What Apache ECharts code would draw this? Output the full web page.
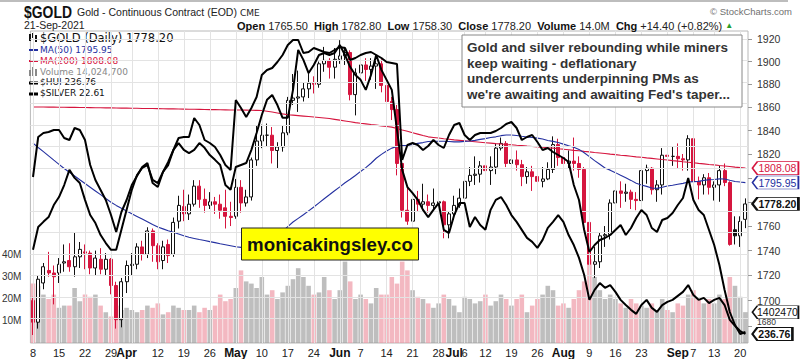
<!DOCTYPE html>
<html><head><meta charset="utf-8">
<script src="https://cdn.jsdelivr.net/npm/echarts@6/dist/echarts.min.js"></script>
<style>html,body{margin:0;padding:0;background:#fff}#c{width:803px;height:359px}</style>
</head><body><div id="c"></div>
<script>
// ---- categories (trading days) ----
const monthDays = [
  ['Mar',[8,9,10,11,12,15,16,17,18,19,22,23,24,25,26,29,30,31]],
  ['Apr',[1,5,6,7,8,9,12,13,14,15,16,19,20,21,22,23,26,27,28,29,30]],
  ['May',[3,4,5,6,7,10,11,12,13,14,17,18,19,20,21,24,25,26,27,28]],
  ['Jun',[1,2,3,4,7,8,9,10,11,14,15,16,17,18,21,22,23,24,25,28,29,30]],
  ['Jul',[1,2,6,7,8,9,12,13,14,15,16,19,20,21,22,23,26,27,28,29,30]],
  ['Aug',[2,3,4,5,6,9,10,11,12,13,16,17,18,19,20,23,24,25,26,27,30,31]],
  ['Sep',[1,2,3,7,8,9,10,13,14,15,16,17,20,21]]
];
const xTickLabels = {'Mar 8':'8','Mar 15':'15','Mar 22':'22','Mar 29':'29','Apr 1':'Apr','Apr 12':'12','Apr 19':'19','Apr 26':'26',
  'May 3':'May','May 10':'10','May 17':'17','May 24':'24','Jun 1':'Jun','Jun 7':'7','Jun 14':'14','Jun 21':'21','Jun 28':'28',
  'Jul 1':'Jul','Jul 6':'6','Jul 12':'12','Jul 19':'19','Jul 26':'26','Aug 2':'Aug','Aug 9':'9','Aug 16':'16','Aug 23':'23',
  'Sep 1':'Sep','Sep 7':'7','Sep 13':'13','Sep 20':'20'};
const weekGridDates = ['Mar 8','Mar 15','Mar 22','Mar 29','Apr 5','Apr 12','Apr 19','Apr 26','May 3','May 10','May 17','May 24',
  'Jun 1','Jun 7','Jun 14','Jun 21','Jun 28','Jul 6','Jul 12','Jul 19','Jul 26','Aug 2','Aug 9','Aug 16','Aug 23','Aug 30','Sep 7','Sep 13','Sep 20'];
const priceGridTicks = [1680,1700,1720,1740,1760,1780,1800,1820,1840,1860,1880,1900,1920];
const priceLabelTicks = [1680,1700,1720,1740,1760,1820,1840,1860,1880,1900,1920];
const volumeTicks = [10,20,30,40];

// ---- gold OHLC ----
const priorClose = 1698.5;
const open = [1700,1683,1714,1724,1722,1722,1730,1732,1727,1735,1739,1738,1726,1733,1725,1733,1712,1685,1715,1728,
 1729,1743,1737,1756,1744,1732,1745,1737,1764,1776,1770,1778,1793,1782,1777,1780,1778,1775,1768,1768,
 1792,1779,1784,1815,1831,1836,1836,1823,1826,1838,1866,1868,1869,1876,1881,1880,1898,1901,1895,1902,
 1905,1908,1871,1890,1897,1893,1896,1898,1879,1865,1858,1812,1773,1764,1782,1778,1780,1777,1779,1780,
 1761,1770,1777,1783,1797,1802,1803,1810,1806,1809,1825,1829,1812,1815,1811,1801,1805,1801,1797,1799,
 1807,1828,1817,1812,1814,1812,1807,1763,1729,1731,1752,1753,1779,1789,1787,1788,1782,1781,1806,1808,
 1790,1794,1819,1818,1818,1816,1815,1833,1797,1794,1800,1792,1794,1806,1796,1757,1752,1765.5];
const high = [1703,1720,1730,1739,1728,1734,1745,1746,1755,1747,1745,1740,1740,1742,1738,1734,1715,1718,1732,1738,
 1746,1748,1759,1758,1746,1748,1749,1767,1785,1790,1786,1798,1798,1791,1788,1784,1786,1790,1780,1799,
 1798,1790,1817,1844,1845,1846,1843,1830,1844,1869,1889,1892,1882,1890,1887,1900,1913,1903,1912,1919,
 1913,1910,1894,1903,1903,1903,1904,1902,1881,1869,1862,1815,1793,1790,1789,1795,1786,1791,1786,1781,
 1772,1785,1791,1815,1809,1818,1814,1812,1818,1829,1834,1831,1826,1823,1815,1809,1810,1812,1809,1813,
 1835,1833,1820,1823,1834,1818,1809,1767,1743,1755,1760,1782,1794,1797,1795,1790,1788,1810,1811,1809,
 1798,1825,1823,1826,1829,1820,1836,1834,1801,1803,1804,1797,1810,1812,1797,1768,1768,1782.8];
const low = [1673,1678,1709,1719,1697,1714,1723,1723,1719,1726,1725,1721,1720,1721,1720,1705,1678,1679,1706,1720,
 1725,1732,1734,1731,1725,1725,1730,1735,1758,1764,1765,1776,1775,1771,1774,1770,1766,1758,1760,1766,
 1771,1776,1781,1810,1825,1826,1812,1808,1822,1836,1862,1856,1865,1868,1872,1877,1891,1885,1885,1898,
 1897,1866,1853,1884,1883,1884,1876,1873,1855,1849,1802,1767,1761,1761,1772,1773,1771,1773,1770,1750,
 1750,1765,1775,1783,1793,1794,1796,1791,1794,1803,1823,1809,1794,1806,1793,1795,1789,1791,1792,1798,
 1804,1810,1806,1808,1806,1800,1757,1690,1718,1726,1743,1749,1770,1775,1780,1774,1773,1778,1795,1786,
 1780,1786,1809,1810,1808,1806,1806,1791,1782,1786,1786,1781,1780,1793,1744,1745,1743,1758.3];
const close = [1683,1717,1727,1722,1719,1729,1731,1727,1735,1741,1738,1726,1734,1725,1733,1712,1685,1715,1728,1729,
 1743,1737,1756,1744,1731,1743,1736,1763,1777,1770,1778,1793,1782,1777,1780,1778,1773,1768,1767,1792,
 1779,1784,1815,1831,1836,1836,1823,1826,1838,1866,1868,1869,1876,1881,1880,1898,1901,1895,1902,1905,
 1908,1871,1890,1897,1893,1896,1898,1879,1865,1858,1812,1773,1764,1782,1778,1780,1777,1779,1780,1761,
 1770,1777,1783,1797,1802,1803,1810,1806,1809,1825,1829,1812,1815,1811,1801,1805,1801,1797,1799,1807,
 1828,1817,1812,1814,1812,1807,1763,1729,1731,1752,1753,1779,1789,1787,1788,1782,1781,1806,1808,1790,
 1794,1819,1818,1818,1816,1815,1833,1797,1794,1800,1792,1794,1806,1796,1745,1752,1763.8,1778.2];
const volumeM = [27,26,22,20,22,16,17,17,25,19, 22,21,22,17,14,12,17,15,16,15, 14,15,17,16,18,13,14,17,16,15,
 15,17,14,16,15,17,22,19,20,25, 33,28,27,25,30,22,24,20,23,26, 29,34,30,26,22,23,30,24,20,24,
 37,28,20,22,20,18,25,22,22,30, 27,37,33,24,21,20,18,16,18,22, 20,17,14,21,20,18,19,22,17,19,
 22,20,17,20,22,14,17,20,22,26, 24,17,18,16,20,24,28,38,30,24, 20,22,20,18,16,20,18,17,16,18,
 15,20,15,14,18,17,22,24,20,18, 20,18,22,20,30,26,21,14.0247];
const ma50 = [1829.3,1825.5,1822.0,1818.4,1814.8,1811.3,1807.8,1804.6,1801.5,1798.3,1795.2,1792.1,1789.0,1785.9,1782.7,1779.6,1777.0,1774.6,1772.3,1770.1,
 1767.9,1765.7,1763.5,1761.3,1759.2,1757.7,1756.2,1754.9,1753.5,1752.1,1750.8,1749.9,1749.0,1748.2,1747.3,1746.5,1745.6,1744.8,1744.0,1743.2,
 1742.6,1742.2,1742.4,1743.6,1745.4,1747.6,1749.9,1752.4,1755.8,1759.6,1763.3,1766.3,1769.3,1772.5,1775.7,1779.1,1782.5,1785.8,1789.2,1792.4,
 1795.8,1798.7,1801.9,1805.3,1808.5,1812.2,1816.4,1819.7,1822.5,1825.0,1826.4,1827.1,1827.3,1828.1,1829.0,1829.7,1830.6,1830.9,1830.9,1830.8,
 1830.6,1830.3,1830.3,1830.7,1831.1,1831.6,1832.4,1833.1,1834.0,1834.6,1835.6,1836.2,1836.2,1835.8,1835.1,1834.5,1834.0,1833.5,1832.7,1831.5,
 1830.7,1829.7,1828.4,1827.0,1825.7,1823.9,1821.1,1817.8,1814.4,1811.3,1808.2,1806.4,1804.3,1802.1,1800.0,1797.8,1795.4,1794.0,1792.8,1791.5,
 1791.1,1792.0,1793.1,1793.8,1794.6,1795.3,1796.4,1796.8,1797.0,1797.8,1798.3,1798.6,1799.1,1799.0,1797.9,1796.9,1796.4,1795.95];
const ma200 = [1860.2,1860.3,1860.2,1860.1,1860.1,1860.0,1860.0,1859.9,1859.9,1859.8,1859.8,1859.7,1859.6,1859.6,1859.5,1859.5,1859.4,1859.3,1859.3,1859.2,
 1859.1,1859.0,1858.9,1858.9,1858.8,1858.7,1858.6,1858.6,1858.5,1858.4,1858.3,1858.3,1858.2,1858.1,1858.0,1858.0,1857.9,1857.8,1857.7,1857.7,
 1857.6,1857.5,1857.4,1857.3,1857.2,1856.6,1855.9,1855.1,1854.3,1853.6,1853.2,1852.8,1852.4,1852.0,1851.6,1851.2,1850.8,1850.3,1849.6,1848.9,
 1848.2,1847.5,1846.8,1846.2,1845.7,1845.1,1844.6,1844.0,1843.5,1842.9,1841.8,1840.5,1839.3,1838.1,1836.9,1835.7,1834.6,1834.1,1833.6,1833.0,
 1832.5,1832.0,1831.6,1831.2,1830.8,1830.4,1830.0,1829.6,1829.2,1828.8,1828.5,1828.1,1827.8,1827.4,1827.1,1826.7,1826.4,1826.0,1825.7,1825.3,
 1825.0,1824.5,1824.1,1823.6,1823.1,1822.7,1822.2,1821.8,1821.3,1820.9,1820.4,1819.9,1819.5,1819.0,1818.6,1818.1,1817.6,1817.2,1816.7,1816.3,
 1815.8,1815.3,1814.9,1814.4,1814.0,1813.5,1813.1,1812.6,1812.1,1811.7,1811.2,1810.8,1810.3,1809.9,1809.4,1808.9,1808.5,1808.08];
const hui = [257.8,263.5,264.8,266.0,269.0,271.0,274.0,277.8,275.8,274.5, 270.3,266.5,264.5,261.5,259.5,257.8,257.8,262.8,267.8,272.8,
 276.5,278.3,279.0,275.3,274.5,277.3,279.0,282.8,284.5,282.8, 282.0,282.8,284.5,283.3,281.5,280.3,279.0,274.0,272.8,278.5,
 279.0,279.5,282.8,287.0,291.5,295.3,296.5,294.0,290.8,290.8, 297.8,307.8,305.3,302.0,304.0,306.5,307.0,306.5,307.0,309.0,
 306.5,303.5,301.5,300.3,297.8,301.5,306.5,302.8,300.3,297.8, 287.8,277.8,273.5,272.0,270.3,267.8,266.0,267.8,269.5,262.8,
 262.0,266.5,269.5,269.5,263.5,266.0,264.0,262.8,267.8,270.3, 271.0,269.0,266.5,264.8,262.8,260.8,259.8,258.3,260.3,263.3,
 264.8,266.5,264.8,261.5,259.0,255.8,251.5,245.3,247.8,249.5, 248.3,249.0,247.3,245.3,244.0,242.8,241.8,244.0,245.3,243.3,
 242.3,244.0,244.8,245.3,246.3,247.3,249.0,246.5,245.3,245.8, 244.5,245.3,245.8,244.0,240.3,238.8,237.5,236.76];
const silver = [25.71,26.51,26.59,26.61,26.65,26.65,26.49,26.45,26.69,26.65, 26.45,25.95,25.65,25.45,25.25,24.95,24.61,25.01,25.25,25.55,
 25.73,25.91,25.99,25.59,25.51,25.81,26.01,26.25,26.49,26.51, 26.51,26.89,26.75,26.45,26.39,26.31,26.15,25.95,25.85,27.25,
 27.09,26.91,27.09,27.31,27.75,27.85,27.89,28.01,28.15,28.35, 28.45,28.45,28.19,28.21,28.29,28.25,28.21,28.19,28.25,28.31,
 28.29,28.05,28.09,28.15,28.19,28.21,28.15,28.09,28.01,27.99, 27.97,26.05,26.35,26.39,26.35,26.25,26.33,26.45,26.35,26.29,
 26.55,26.75,26.79,26.55,26.45,26.55,26.59,26.59,26.59,26.63, 26.69,26.77,26.81,26.69,26.45,26.51,26.55,26.41,26.25,26.29,
 26.21,26.15,26.09,26.01,25.55,25.25,24.65,24.21,24.35,24.45, 24.49,24.55,24.65,24.75,24.55,24.69,24.89,25.05,24.95,24.69,
 24.61,24.85,24.89,24.99,25.15,25.29,25.69,25.25,25.05,24.95, 24.65,24.35,23.95,23.45,23.01,22.75,22.57,22.61];

// ---- build ----
const dates = [];
monthDays.forEach(([m, ds]) => ds.forEach(d => dates.push(m + ' ' + d)));
const N = dates.length;
const last = dates[N - 1];
const ln = Math.log;
const RED = '#d6163f', BLK = '#111', BLUE = '#2430a0';
const fontA = 'Liberation Sans, Arial, sans-serif';
const fontV = 'DejaVu Sans, Verdana, sans-serif';

const candleData = dates.map((d, i) => {
  const pc = i === 0 ? priorClose : close[i - 1];
  const down = close[i] < pc;
  const col = down ? RED : BLK;
  const hollow = close[i] > open[i];
  return {
    value: [ln(open[i]), ln(close[i]), ln(low[i]), ln(high[i])],
    itemStyle: { color: hollow ? '#fff' : col, color0: col, borderColor: col, borderColor0: col }
  };
});
const volData = dates.map((d, i) => {
  const pc = i === 0 ? priorClose : close[i - 1];
  return { value: volumeM[i], itemStyle: { color: close[i] < pc ? 'rgba(236,140,155,0.62)' : 'rgba(150,150,150,0.62)' } };
});

function tag(coordY, text, color, bold, w) {
  w = w || 46;
  return {
    coord: [last, coordY],
    symbol: 'path://M0,6 L5,0 L' + w + ',0 L' + w + ',12 L5,12 Z',
    symbolSize: [w, 13],
    symbolKeepAspect: false,
    symbolOffset: [7 + w / 2, 0],
    itemStyle: { color: '#fff', borderColor: color, borderWidth: bold ? 1.5 : 1 },
    label: { show: true, position: 'inside', offset: [2, 0], formatter: text, color: color,
      fontFamily: fontA, fontSize: 10.5, fontWeight: bold ? 'bold' : 'normal' }
  };
}

const option = {
  animation: false,
  backgroundColor: '#fff',
  grid: { left: 30.4, right: 55, top: 31, bottom: 16, show: true, borderColor: '#b8b8b8', borderWidth: 1, outerBoundsMode: 'none', containLabel: false },
  xAxis: {
    type: 'category', data: dates, boundaryGap: true,
    axisLine: { show: false }, axisTick: { show: false }, splitLine: { show: false },
    axisLabel: {
      interval: (i, v) => xTickLabels[v] !== undefined,
      formatter: v => { const t = xTickLabels[v] || ''; return /^[A-Z]/.test(t) ? '{m|' + t + '}' : t; },
      margin: 4, color: '#222', fontFamily: fontA, fontSize: 11,
      rich: { m: { fontWeight: 'bold', fontSize: 12, fontFamily: fontA, color: '#111' } }
    }
  },
  yAxis: [
    { type: 'value', position: 'right', min: ln(1666.8), max: ln(1927.2), scale: true,
      axisLine: { show: false }, splitLine: { show: false },
      axisTick: { show: true, length: 4, customValues: priceGridTicks.map(ln), lineStyle: { color: '#999' } },
      axisLabel: { customValues: priceLabelTicks.map(ln),
        formatter: v => { const p = Math.round(Math.exp(v)); return p === 1680 ? '{s|1680}' : String(p); },
        margin: 9, color: '#333', fontFamily: fontA, fontSize: 10.5,
        rich: { s: { fontSize: 8.5, fontFamily: fontA, color: '#333', padding: [0, 0, 8, 0] } } } },
    { type: 'value', position: 'left', min: 0, max: 141.8,
      axisLine: { show: false }, splitLine: { show: false }, axisTick: { show: false },
      axisLabel: { customValues: volumeTicks, formatter: v => v + 'M', margin: 9, color: '#333', fontFamily: fontA, fontSize: 10 } },
    { type: 'value', show: false, min: 234.51, max: 312.51 },
    { type: 'value', show: false, min: 22.39, max: 28.63 }
  ],
  series: [
    { type: 'line', name: 'grid', yAxisIndex: 0, data: close.map(ln), symbol: 'none', silent: true, z: 0,
      lineStyle: { opacity: 0 },
      markLine: { silent: true, symbol: ['none', 'none'], label: { show: false },
        lineStyle: { color: '#e3e3e3', width: 1, type: 'solid' },
        data: priceGridTicks.map(p => ({ yAxis: ln(p) })).concat(weekGridDates.map(d => ({ xAxis: d }))) } },
    { type: 'bar', name: 'Volume', yAxisIndex: 1, data: volData, barWidth: '88%', z: 1,
      markPoint: { data: [ tag(volumeM[N - 1], '1402470', BLK, false, 46) ] } },
    { type: 'candlestick', name: 'GOLD', yAxisIndex: 0, data: candleData, barWidth: '70%', z: 3,
      itemStyle: { borderWidth: 1 },
      markPoint: { data: [ tag(ln(close[N - 1]), close[N - 1].toFixed(2), BLK, true, 46) ] } },
    { type: 'line', name: 'MA200', yAxisIndex: 0, data: ma200.map(ln), symbol: 'none', z: 4,
      lineStyle: { color: RED, width: 1.1 },
      markPoint: { data: [ tag(ln(ma200[N - 1]), ma200[N - 1].toFixed(2), RED, false, 46) ] } },
    { type: 'line', name: 'MA50', yAxisIndex: 0, data: ma50.map(ln), symbol: 'none', z: 4,
      lineStyle: { color: BLUE, width: 1.1 },
      markPoint: { data: [ tag(ln(ma50[N - 1]), ma50[N - 1].toFixed(2), BLUE, false, 46) ] } },
    { type: 'line', name: 'SILVER', yAxisIndex: 3, data: silver, symbol: 'none', z: 5,
      lineStyle: { color: '#000', width: 2 } },
    { type: 'line', name: 'HUI', yAxisIndex: 2, data: hui, symbol: 'none', z: 5,
      lineStyle: { color: '#000', width: 2 },
      markPoint: { data: [ tag(hui[N - 1], hui[N - 1].toFixed(2), BLK, true, 40) ] } }
  ],
  graphic: [
    { type: 'line', shape: { x1: 0, y1: 1, x2: 788, y2: 1 }, style: { stroke: '#bdbdbd', lineWidth: 2 } },
    { type: 'text', x: 24, y: 12, scaleX: 0.82, style: { text: '$GOLD', font: 'bold 17px ' + fontA, fill: '#111', textVerticalAlign: 'middle' } },
    { type: 'text', x: 77, y: 12, style: { text: 'Gold - Continuous Contract (EOD)', font: '10.5px ' + fontA, fill: '#222', textVerticalAlign: 'middle' } },
    { type: 'text', x: 240, y: 12.5, style: { text: 'CME', font: '9px ' + fontV, fill: '#222', textVerticalAlign: 'middle' } },
    { type: 'text', x: 24, y: 25, style: { text: '21-Sep-2021', font: '10.5px ' + fontA, fill: '#222', textVerticalAlign: 'middle' } },
    { type: 'text', x: 237, y: 25.5, style: {
        text: '{b|Open} 1765.50  {b|High} 1782.80  {b|Low} 1758.30  {b|Close} 1778.20  {b|Volume} 14.0M  {b|Chg} +14.40 (+0.82%) {g|▲}',
        font: '11px ' + fontA, fill: '#222', textVerticalAlign: 'middle',
        rich: { b: { font: 'bold 11px ' + fontA, fill: '#111' }, g: { font: '8px ' + fontA, fill: '#2a9d2a' } } } },
    { type: 'text', x: 792, y: 11, style: { text: '© StockCharts.com', font: '9.5px ' + fontA, fill: '#707070', textAlign: 'right', textVerticalAlign: 'middle' } },
    // legend
    { type: 'group', left: 29, top: 33, children: [
      { type: 'rect', shape: { x: 0, y: 1, width: 2, height: 7 }, style: { fill: '#111' } },
      { type: 'rect', shape: { x: 3, y: 0, width: 2, height: 5 }, style: { fill: '#111' } },
      { type: 'rect', shape: { x: 6, y: 2, width: 2, height: 7 }, style: { fill: '#111' } } ] },
    { type: 'text', left: 40, top: 32, style: { text: '$GOLD (Daily) 1778.20', font: '11.5px ' + fontV, fill: '#111' } },
    { type: 'line', shape: { x1: 29, y1: 50, x2: 38, y2: 50 }, style: { stroke: BLUE, lineWidth: 2 } },
    { type: 'text', left: 40, top: 45, style: { text: 'MA(50) 1795.95', font: '9px ' + fontV, fill: BLUE } },
    { type: 'line', shape: { x1: 29, y1: 61, x2: 38, y2: 61 }, style: { stroke: RED, lineWidth: 2 } },
    { type: 'text', left: 40, top: 56, style: { text: 'MA(200) 1808.08', font: '9px ' + fontV, fill: RED } },
    { type: 'group', left: 29, top: 67, children: [
      { type: 'rect', shape: { x: 0, y: 3, width: 2, height: 6 }, style: { fill: '#888' } },
      { type: 'rect', shape: { x: 3, y: 0, width: 2, height: 9 }, style: { fill: '#888' } },
      { type: 'rect', shape: { x: 6, y: 2, width: 2, height: 7 }, style: { fill: '#888' } } ] },
    { type: 'text', left: 40, top: 67, style: { text: 'Volume 14,024,700', font: '9px ' + fontV, fill: '#888' } },
    { type: 'line', shape: { x1: 29, y1: 83, x2: 38, y2: 83 }, style: { stroke: '#000', lineWidth: 3 } },
    { type: 'text', left: 40, top: 77, style: { text: '$HUI 236.76', font: '9px ' + fontV, fill: '#111' } },
    { type: 'line', shape: { x1: 29, y1: 94, x2: 38, y2: 94 }, style: { stroke: '#000', lineWidth: 3 } },
    { type: 'text', left: 40, top: 88, style: { text: '$SILVER 22.61', font: '9px ' + fontV, fill: '#111' } },
    // annotation box
    { type: 'rect', z: 100, shape: { x: 462, y: 35, width: 280, height: 72 }, style: { fill: '#fff', stroke: '#888', lineWidth: 1 } },
    { type: 'text', z: 101, left: 467, top: 40, style: {
        text: 'Gold and silver rebounding while miners\nkeep waiting - deflationary\nundercurrents underpinning PMs as\nwe\'re awaiting and awaiting Fed\'s taper...',
        font: 'bold 13.5px ' + fontA, fill: '#333', lineHeight: 15.5 } },
    // website box
    { type: 'rect', z: 100, shape: { x: 241.5, y: 228, width: 177, height: 32 }, style: { fill: '#ffff00', stroke: '#222', lineWidth: 1 } },
    { type: 'text', z: 101, x: 330, y: 244.5, style: { text: 'monicakingsley.co', font: 'bold 18.7px ' + fontA, fill: '#111',
        textAlign: 'center', textVerticalAlign: 'middle' } }
  ]
};
const chart = echarts.init(document.getElementById('c'), null, { renderer: 'svg', width: 803, height: 359 });
chart.setOption(option);
</script>
</body></html>
